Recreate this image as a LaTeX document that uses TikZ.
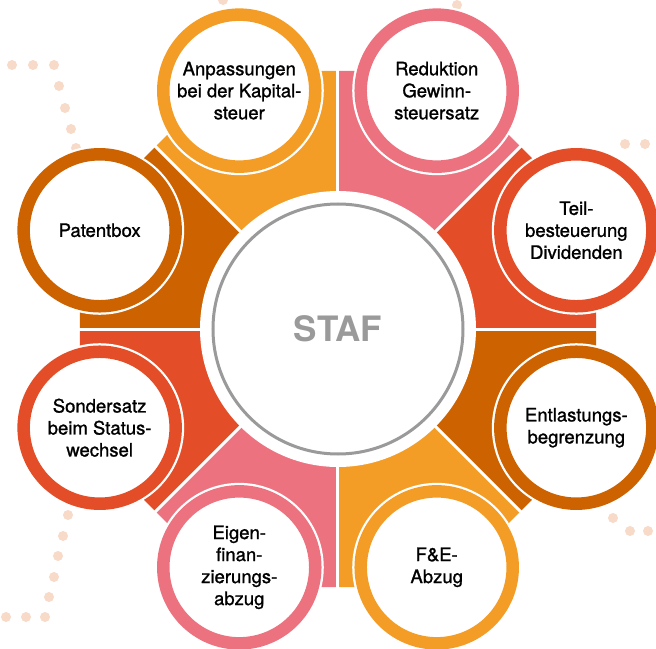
\documentclass[tikz,border=0pt]{standalone}
\usepackage{fontspec}
\setmainfont{TeX Gyre Heros}
\newfontfamily\topicfont[FakeBold=1.2]{TeX Gyre Heros}
\usepackage{tikz}
\usetikzlibrary{calc}
\definecolor{stafOrange}{HTML}{F39D26}
\definecolor{stafPink}{HTML}{ED7280}
\definecolor{stafRed}{HTML}{E34D27}
\definecolor{stafDark}{HTML}{CC6300}
\definecolor{stafGray}{HTML}{9A9A9A}
\definecolor{stafDot}{HTML}{F7DAC8}
\tikzset{
	topictext/.style={align=center, text=black, font=\topicfont\fontsize{18.5}{22}\selectfont},
	staftext/.style={text=stafGray, font=\fontsize{35}{40}\selectfont\bfseries}
}
\def\sector(#1:#2)[#3]{\fill[#3] (0,0) -- (#1:258) -- ({(#1+#2)/2}:279.3) -- (#2:258) -- cycle;}
\def\topic(#1)[#2](#3)#4{%
	\fill[white] (#1:258) circle (84.5);
	\draw[line width=12.5, color=#2] (#1:258) circle (76);
	\node[topictext] (#3) at (#1:258) {#4};}

\begin{document}
\begin{tikzpicture}[x=1pt, y=1pt]
			%%%%% START %%%%%
			
			\useasboundingbox (-338, -319) rectangle (318, 329);
			
			\fill[stafDot] (-326, 264) circle (5);
			\fill[stafDot] (-305, 264) circle (5);
			\fill[stafDot] (-284, 264) circle (5);
			\fill[stafDot] (-279, 243) circle (5);
			\fill[stafDot] (-273, 221) circle (5);
			\fill[stafDot] (-267, 200) circle (5);
			\fill[stafDot] (-262, 181) circle (5);
			
			\fill[stafDot] (-115, 329) circle (5);
			\fill[stafDot] (119, 324) circle (5);
			
			\fill[stafDot] (287, 185) circle (5);
			\fill[stafDot] (307, 185) circle (5);
			
			\fill[stafDot] (275, -189) circle (5);
			\fill[stafDot] (292, -202) circle (5);
			\fill[stafDot] (310, -202) circle (5);
			
			\fill[stafDot] (-270, -186) circle (5);
			\fill[stafDot] (-275, -207) circle (5);
			\fill[stafDot] (-280, -227) circle (5);
			\fill[stafDot] (-284, -248) circle (5);
			\fill[stafDot] (-289, -268) circle (5);
			\fill[stafDot] (-293, -288) circle (5);
			\fill[stafDot] (-312, -288) circle (5);
			\fill[stafDot] (-332, -288) circle (5);
			
			\sector(0:45)[stafRed]
			\sector(45:90)[stafPink]
			\sector(90:135)[stafOrange]
			\sector(135:180)[stafDark]
			\sector(180:225)[stafRed]
			\sector(225:270)[stafPink]
			\sector(270:315)[stafOrange]
			\sector(315:360)[stafDark]
			
			\draw[line width=3, color=white] (0, 0) -- (0:290);
			\draw[line width=3, color=white] (0, 0) -- (45:290);
			\draw[line width=3, color=white] (0, 0) -- (90:290);
			\draw[line width=3, color=white] (0, 0) -- (135:290);
			\draw[line width=3, color=white] (0, 0) -- (180:290);
			\draw[line width=3, color=white] (0, 0) -- (225:290);
			\draw[line width=3, color=white] (0, 0) -- (270:290);
			\draw[line width=3, color=white] (0, 0) -- (315:290);
			
			\fill[white] (0, 0) circle (138);
			\draw[line width=3, color=stafGray] (0, 0) circle (125);
			\node[staftext] (staf) at (0, 0) {STAF};
			
			\topic(112.5)[stafOrange](kapital){Anpassungen\\bei der Kapital-\\steuer}
			\topic(67.5)[stafPink](gewinn){Reduktion\\Gewinn-\\steuersatz}
			\topic(22.5)[stafRed](dividenden){Teil-\\besteuerung\\Dividenden}
			\topic(-22.5)[stafDark](entlastung){Entlastungs-\\begrenzung}
			\topic(-67.5)[stafOrange](fe){F\&E-\\Abzug}
			\topic(-112.5)[stafPink](eigen){Eigen-\\finan-\\zierungs-\\abzug}
			\topic(-157.5)[stafRed](sondersatz){Sondersatz\\beim Status-\\wechsel}
			\topic(157.5)[stafDark](patent){Patentbox}
			
			%%%%% END %%%%%
		\end{tikzpicture}
\end{document}
